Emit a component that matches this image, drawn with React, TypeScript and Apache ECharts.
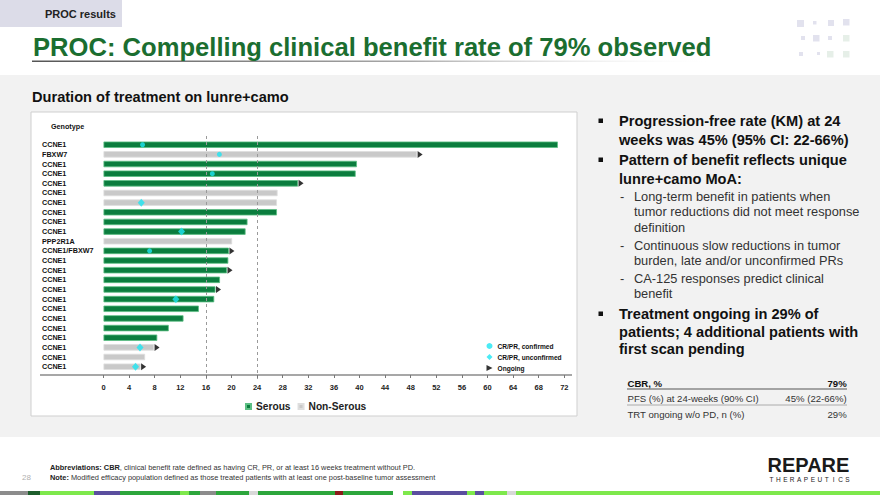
import React, { useEffect, useRef } from "react";
import * as echarts from "echarts";

const FONT = '"Liberation Sans", Arial, Helvetica, sans-serif';

// ---- data ----
const genotypes = [
  "CCNE1", "FBXW7", "CCNE1", "CCNE1", "CCNE1", "CCNE1", "CCNE1", "CCNE1",
  "CCNE1", "CCNE1", "PPP2R1A", "CCNE1/FBXW7", "CCNE1", "CCNE1", "CCNE1", "CCNE1",
  "CCNE1", "CCNE1", "CCNE1", "CCNE1", "CCNE1", "CCNE1", "CCNE1", "CCNE1",
];
const histology = [
  "S", "N", "S", "S", "S", "N", "N", "S", "S", "S", "N", "S",
  "S", "S", "S", "S", "S", "S", "S", "S", "S", "N", "N", "N",
];
const durations = [
  71, 49, 39.6, 39.4, 30.4, 27.2, 27.1, 27.1, 22.5, 22.2, 20.1, 19.6,
  19.5, 19.3, 18.2, 17.5, 17.3, 14.9, 12.5, 10.2, 8.4, 7.9, 6.5, 5.8,
];
const ongoingRows = [1, 4, 11, 13, 15, 21, 23];
const confirmedRows = [0, 1, 3, 11];
const confirmedWeeks = [6.1, 18.1, 17.0, 7.2];
const unconfirmedRows = [6, 9, 16, 21, 23];
const unconfirmedWeeks = [5.9, 12.2, 11.3, 5.7, 5.0];
const referenceWeeks = [16, 24];
const histologyNames = ["Serous", "Non-Serous"];
const markerNames = ["CR/PR, confirmed", "CR/PR, unconfirmed", "Ongoing"];

const bulletLines1 = ["Progression-free rate (KM) at 24", "weeks was 45% (95% CI: 22-66%)"];
const bulletLines2 = ["Pattern of benefit reflects unique", "lunre+camo MoA:"];
const subLines1 = ["Long-term benefit in patients when", "tumor reductions did not meet response", "definition"];
const subLines2 = ["Continuous slow reductions in tumor", "burden, late and/or unconfirmed PRs"];
const subLines3 = ["CA-125 responses predict clinical", "benefit"];
const bulletLines3 = ["Treatment ongoing in 29% of", "patients; 4 additional patients with", "first scan pending"];
const tableRows = [
  ["CBR, %", "79%"],
  ["PFS (%) at 24-weeks (90% CI)", "45% (22-66%)"],
  ["TRT ongoing w/o PD, n (%)", "29%"],
];

const ARROW = "path://M0,0L10,5L0,10Z";
const GREEN = "#0b7d3e";
const GRAY = "#c9c9c9";
const CYAN = "#1ee6f2";

function txt(text: string, x: number, y: number, size: number, opts: any = {}) {
  return {
    type: "text",
    z: 10,
    silent: true,
    style: {
      text,
      x,
      y,
      fill: opts.fill || "#111",
      fontSize: size,
      fontWeight: opts.bold ? "bold" : "normal",
      fontFamily: FONT,
      align: opts.align || "left",
      textAlign: opts.align || "left",
      verticalAlign: "middle",
      textVerticalAlign: "middle",
      rich: opts.rich,
    },
  };
}
function rect(x: number, y: number, w: number, h: number, fill: any, extra: any = {}) {
  return { type: "rect", z: extra.z ?? 0, silent: true, shape: { x, y, width: w, height: h }, style: { fill, ...(extra.style || {}) } };
}

const strip: [number, number, string][] = [
  [0, 28, "#8c8c8c"], [28, 40, "#1d5e2c"], [40, 94, "#7ee84c"], [94, 120, "#5a4e9e"],
  [120, 180, "#2da63c"], [180, 189, "#7ee84c"], [189, 200, "#2da63c"], [200, 216, "#8c8c8c"],
  [216, 249, "#2da63c"], [249, 258, "#d8d8d8"], [258, 335, "#2da63c"], [335, 343, "#8b1a1a"],
  [343, 393, "#2da63c"], [403, 412, "#7ee84c"], [412, 467, "#5a4e9e"], [467, 475, "#7ee84c"],
  [475, 484, "#5a4e9e"], [484, 507, "#7ee84c"], [507, 516, "#d8d8d8"], [516, 880, "#7ee84c"],
];
const logoSquares: [number, number, number, string][] = [
  [797, 20, 7, "#e2e2ee"], [813, 21, 3.5, "#e2e2ee"], [828, 20, 6, "#e2e2ee"], [843, 19, 6.5, "#e2e2ee"],
  [801, 36, 4, "#e2e2ee"], [813, 35, 6.5, "#e2e2ee"], [828, 36, 4, "#e2e2ee"], [843, 35, 6.5, "#e6efe8"],
  [799, 52, 4, "#e2e2ee"], [817, 52, 3, "#e2e2ee"], [827, 51, 6.5, "#e6efe8"], [843, 51, 6.5, "#e6efe8"],
];

function buildGraphic() {
  const g: any[] = [];
  // header
  g.push(rect(0, 0, 122, 27, "#dcdce8"));
  g.push(txt("PROC results", 45, 14, 11, { bold: true, fill: "#222" }));
  logoSquares.forEach(([x, y, s, c]) => g.push(rect(x, y, s, s, c)));
  g.push(txt("PROC: Compelling clinical benefit rate of 79% observed", 33, 47, 25.6, { bold: true, fill: "#1b6e30" }));
  g.push(
    rect(32, 60.5, 693, 1.5, {
      type: "linear", x: 0, y: 0, x2: 1, y2: 0,
      colorStops: [
        { offset: 0, color: "#555" },
        { offset: 0.55, color: "#aaa" },
        { offset: 1, color: "rgba(255,255,255,0)" },
      ],
    })
  );
  // gray band
  g.push(rect(0, 75, 880, 362, "#f2f2f2"));
  g.push(txt("Duration of treatment on lunre+camo", 32, 97, 14.6, { bold: true, fill: "#111" }));
  // chart box
  g.push(rect(31, 112, 546, 304, "#ffffff", { z: 1, style: { stroke: "#cfcfcf", lineWidth: 1 } }));
  g.push(txt("Genotype", 51, 126, 7.2, { bold: true, fill: "#111" }));
  // axis line
  g.push({ type: "line", z: 5, silent: true, shape: { x1: 40, y1: 375, x2: 572, y2: 375 }, style: { stroke: "#8a8a8a", lineWidth: 1.5 } });

  // right text
  const bx = 619;
  const bullet = (y: number) => g.push(rect(598.5, y - 2.5, 4.5, 4.5, "#111", { z: 10 }));
  bullet(121);
  bulletLines1.forEach((t, i) => g.push(txt(t, bx, 121 + i * 18.5, 14.6, { bold: true })));
  bullet(160);
  bulletLines2.forEach((t, i) => g.push(txt(t, bx, 160 + i * 18.5, 14.6, { bold: true })));
  const sub = (lines: string[], y0: number) => {
    g.push(txt("-", 620, y0, 12.8, { fill: "#333" }));
    lines.forEach((t, i) => g.push(txt(t, 634, y0 + i * 15.2, 12.8, { fill: "#333" })));
  };
  sub(subLines1, 196.7);
  sub(subLines2, 245);
  sub(subLines3, 278.3);
  bullet(314);
  bulletLines3.forEach((t, i) => g.push(txt(t, bx, 314 + i * 17.6, 14.6, { bold: true })));

  // table
  const ty = [383.3, 398.5, 414];
  tableRows.forEach(([a, b], i) => {
    g.push(txt(a, 627.5, ty[i], 9.6, { bold: i === 0, fill: i === 0 ? "#111" : "#333" }));
    g.push(txt(b, 846.7, ty[i], 9.6, { bold: i === 0, fill: i === 0 ? "#111" : "#333", align: "right" }));
  });
  g.push({ type: "line", z: 10, silent: true, shape: { x1: 627, y1: 389, x2: 847, y2: 389 }, style: { stroke: "#555", lineWidth: 1 } });
  g.push({ type: "line", z: 10, silent: true, shape: { x1: 627, y1: 405, x2: 847, y2: 405 }, style: { stroke: "#9a9a9a", lineWidth: 0.8 } });

  // footer
  const FS = 7.4;
  g.push(
    txt("{b|Abbreviations: CBR}, clinical benefit rate defined as having CR, PR, or at least 16 weeks treatment without PD.", 50, 467, FS, {
      fill: "#333",
      rich: { b: { fontWeight: "bold", fontSize: FS, fontFamily: FONT, fill: "#222" } },
    })
  );
  g.push(
    txt("{b|Note:} Modified efficacy population defined as those treated patients with at least one post-baseline tumor assessment", 50, 477.5, FS, {
      fill: "#333",
      rich: { b: { fontWeight: "bold", fontSize: FS, fontFamily: FONT, fill: "#222" } },
    })
  );
  g.push(txt("28", 22, 477.5, 8, { fill: "#b0b0b0" }));
  g.push(txt("REPARE", 767.5, 464.5, 20, { bold: true, fill: "#1a1a1a" }));
  "THERAPEUTICS".split("").forEach((ch, i) => g.push(txt(ch, 771.5 + i * 6.9, 479.5, 6.5, { fill: "#222", align: "center" })));
  strip.forEach(([a, b, c]) => g.push(rect(a, 491, b - a, 4, c, { z: 10 })));
  return g;
}

export default function App() {
  const ref = useRef<HTMLDivElement>(null);
  useEffect(() => {
    if (!ref.current) return;
    const chart = echarts.init(ref.current, undefined, { renderer: "svg" });
    const labelStyle = { fontFamily: FONT, fontWeight: "bold" as const, color: "#111" };
    const option: any = {
      animation: false,
      textStyle: { fontFamily: FONT },
      graphic: { elements: buildGraphic() },
      grid: [
        { left: 103.5, right: 315.7, top: 139.9, bottom: 123.5 },
        { left: 103.5, right: 315.7, top: 133, bottom: 116 },
      ],
      xAxis: [
        {
          type: "value", gridIndex: 0, min: 0, max: 72, interval: 4, offset: 3.5, z: 6,
          axisLine: { show: false },
          axisTick: { show: true, length: 3, lineStyle: { color: "#777" } },
          splitLine: { show: false },
          axisLabel: { ...labelStyle, fontSize: 7.5, color: "#222", margin: 8 },
        },
        { type: "value", gridIndex: 1, min: 0, max: 72, show: false },
      ],
      yAxis: [
        {
          type: "category", gridIndex: 0, inverse: true, data: genotypes, z: 6,
          axisLine: { show: false }, axisTick: { show: false }, splitLine: { show: false },
          axisLabel: { ...labelStyle, interval: 0, align: "left", margin: 61.5, fontSize: 7.2 },
        },
        { type: "value", gridIndex: 1, min: 0, max: 1, show: false },
      ],
      legend: [
        {
          data: histologyNames, left: 245, top: 401.5, padding: 0, z: 6,
          itemWidth: 5, itemHeight: 5, itemGap: 7, icon: "rect", selectedMode: false,
          textStyle: { ...labelStyle, fontSize: 10.2, color: "#222" },
        },
        {
          orient: "vertical", left: 486.5, top: 342.5, padding: 0, z: 6,
          itemWidth: 6, itemHeight: 6, itemGap: 4, selectedMode: false,
          data: [
            { name: markerNames[0], icon: "circle" },
            { name: markerNames[1], icon: "diamond" },
            { name: markerNames[2], icon: ARROW },
          ],
          textStyle: { ...labelStyle, fontSize: 6.6, lineHeight: 6 },
        },
      ],
      series: [
        {
          name: histologyNames[0], type: "bar", barWidth: 6.4, barGap: "-100%",
          data: durations.map((d, i) => (histology[i] === "S" ? d : "-")),
          itemStyle: { color: GREEN, borderColor: "#5dbf84", borderWidth: 0.8 },
        },
        {
          name: histologyNames[1], type: "bar", barWidth: 6.4, barGap: "-100%",
          data: durations.map((d, i) => (histology[i] === "N" ? d : "-")),
          itemStyle: { color: GRAY, borderColor: "#dedede", borderWidth: 0.8 },
        },
        {
          name: markerNames[0], type: "scatter", symbol: "circle", symbolSize: 5, z: 5,
          data: confirmedRows.map((r, k) => [confirmedWeeks[k], r]),
          itemStyle: { color: CYAN },
        },
        {
          name: markerNames[1], type: "scatter", symbol: "diamond", symbolSize: [7, 8], z: 5,
          data: unconfirmedRows.map((r, k) => [unconfirmedWeeks[k], r]),
          itemStyle: { color: CYAN },
        },
        {
          name: markerNames[2], type: "scatter", symbol: ARROW, symbolSize: [5, 7], symbolOffset: [3, 0], z: 5,
          data: ongoingRows.map((r) => [durations[r], r]),
          itemStyle: { color: "#000" },
        },
        {
          name: "ref", type: "line", xAxisIndex: 1, yAxisIndex: 1, data: [], silent: true,
          markLine: {
            symbol: "none", silent: true, label: { show: false },
            lineStyle: { type: [3, 3], color: "#9a9a9a", width: 1 },
            data: referenceWeeks.map((w) => ({ xAxis: w })),
          },
        },
      ],
    };
    chart.setOption(option);
    return () => chart.dispose();
  }, []);
  return (
    <div
      ref={ref}
      style={{ position: "absolute", left: 0, top: 0, width: 880, height: 495, background: "#fff" }}
    />
  );
}
